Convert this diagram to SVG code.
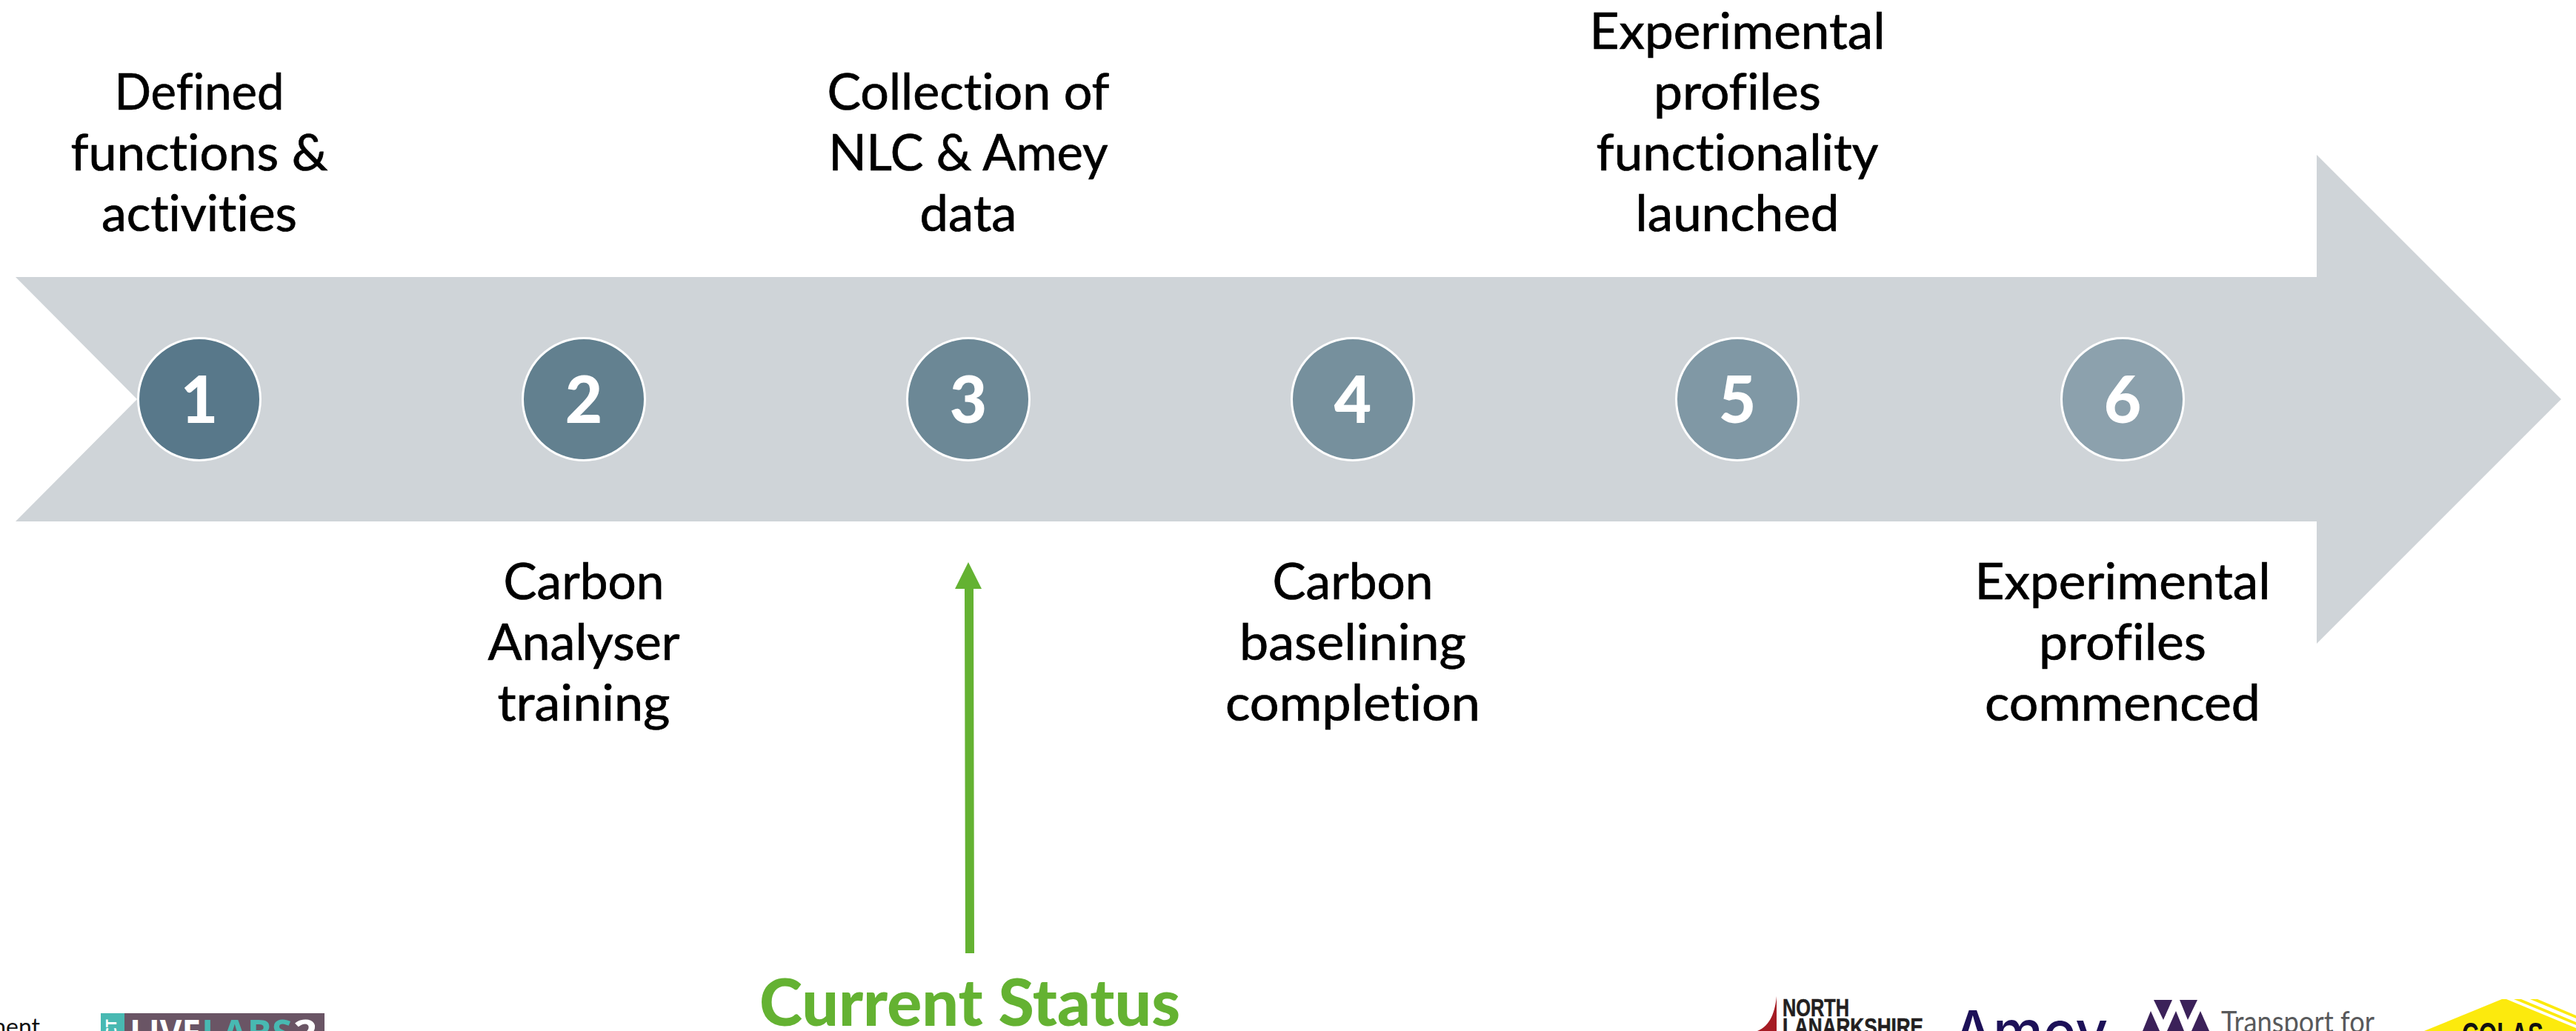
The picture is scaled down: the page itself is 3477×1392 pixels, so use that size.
<svg xmlns="http://www.w3.org/2000/svg" width="3477" height="1392" viewBox="0 0 3477 1392">
<style>
text{font-variant-ligatures:none}
.l{font-family:"Lato","Liberation Sans",sans-serif;font-size:67px;fill:#000;stroke:#000;stroke-width:.7;text-anchor:middle}
.n{font-family:"Lato","Liberation Sans",sans-serif;font-size:87px;font-weight:900;fill:#fff;text-anchor:middle}
.c{stroke:#fff;stroke-width:3}
</style>
<rect width="3477" height="1392" fill="#fff"/>
<g id="timeline-arrow"><polygon points="21,374 3127,374 3127,209 3457,539 3127,869 3127,704 21,704 185,539" fill="#cfd4d8"/></g>
<g id="step-1"><circle class="c" cx="269" cy="539" r="82.5" fill="#58788a"/><text class="n" x="269" y="571">1</text>
<text class="l" x="269" y="148" lengthAdjust="spacingAndGlyphs" textLength="229">Defined</text><text class="l" x="269" y="230" lengthAdjust="spacingAndGlyphs" textLength="347">functions &amp;</text><text class="l" x="269" y="312" lengthAdjust="spacingAndGlyphs" textLength="264">activities</text></g>
<g id="step-2"><circle class="c" cx="788" cy="539" r="82.5" fill="#62808f"/><text class="n" x="788" y="571">2</text>
<text class="l" x="788" y="809" lengthAdjust="spacingAndGlyphs" textLength="217">Carbon</text><text class="l" x="788" y="891" lengthAdjust="spacingAndGlyphs" textLength="259">Analyser</text><text class="l" x="788" y="973" lengthAdjust="spacingAndGlyphs" textLength="233">training</text></g>
<g id="step-3"><circle class="c" cx="1307" cy="539" r="82.5" fill="#6c8896"/><text class="n" x="1307" y="571">3</text>
<text class="l" x="1307" y="148" lengthAdjust="spacingAndGlyphs" textLength="381">Collection of</text><text class="l" x="1307" y="230" lengthAdjust="spacingAndGlyphs" textLength="377">NLC &amp; Amey</text><text class="l" x="1307" y="312" lengthAdjust="spacingAndGlyphs" textLength="131">data</text></g>
<g id="step-4"><circle class="c" cx="1826" cy="539" r="82.5" fill="#76909d"/><text class="n" x="1826" y="571">4</text>
<text class="l" x="1826" y="809" lengthAdjust="spacingAndGlyphs" textLength="217">Carbon</text><text class="l" x="1826" y="891" lengthAdjust="spacingAndGlyphs" textLength="306">baselining</text><text class="l" x="1826" y="973" lengthAdjust="spacingAndGlyphs" textLength="344">completion</text></g>
<g id="step-5"><circle class="c" cx="2345" cy="539" r="82.5" fill="#8098a5"/><text class="n" x="2345" y="571">5</text>
<text class="l" x="2345" y="66" lengthAdjust="spacingAndGlyphs" textLength="399">Experimental</text><text class="l" x="2345" y="148" lengthAdjust="spacingAndGlyphs" textLength="226">profiles</text><text class="l" x="2345" y="230" lengthAdjust="spacingAndGlyphs" textLength="381">functionality</text><text class="l" x="2345" y="312" lengthAdjust="spacingAndGlyphs" textLength="275">launched</text></g>
<g id="step-6"><circle class="c" cx="2865" cy="539" r="82.5" fill="#8ca1ad"/><text class="n" x="2865" y="571">6</text>
<text class="l" x="2865" y="809" lengthAdjust="spacingAndGlyphs" textLength="399">Experimental</text><text class="l" x="2865" y="891" lengthAdjust="spacingAndGlyphs" textLength="226">profiles</text><text class="l" x="2865" y="973" lengthAdjust="spacingAndGlyphs" textLength="372">commenced</text></g>
<g id="connectors"><polygon points="1307,759 1325,795 1314,795 1315,1287 1303,1287 1302,795 1289,795" fill="#64b232"/></g>
<g id="current-status"><text x="1309" y="1385" font-family="Lato,'Liberation Sans',sans-serif" font-size="88" font-weight="900" fill="#64b232" text-anchor="middle" lengthAdjust="spacingAndGlyphs" textLength="568">Current Status</text></g>
<g id="logo-dept"><text x="54" y="1398" font-family="Lato,'Liberation Sans',sans-serif" font-size="32" text-anchor="end" fill="#111">ment</text></g>
<g id="logo-livelabs"><rect x="136" y="1368" width="32" height="24" fill="#48b9b2"/><rect x="168" y="1368" width="270" height="24" fill="#6a5565"/>
<text transform="translate(157,1376) rotate(-90)" font-family="'Open Sans',sans-serif" font-size="19" font-weight="700" fill="#fff" text-anchor="end">CT</text>
<text x="175" y="1412" font-family="'Open Sans',sans-serif" font-size="48" font-weight="700" fill="#fff" lengthAdjust="spacingAndGlyphs" textLength="96">LIVE</text>
<text x="272" y="1412" font-family="'Open Sans',sans-serif" font-size="48" font-weight="700" fill="#48b9b2" lengthAdjust="spacingAndGlyphs" textLength="122">LABS</text>
<text x="396" y="1412" font-family="'Open Sans',sans-serif" font-size="48" font-weight="700" fill="#fff" lengthAdjust="spacingAndGlyphs" textLength="32">2</text></g>
<g id="logo-nlc"><path d="M2398,1345 C2396,1365 2390,1385 2372,1392 L2398,1392 Z" fill="#a51c24"/>
<text x="2406" y="1372" font-family="'Liberation Sans',sans-serif" font-size="33" font-weight="700" fill="#231f20" stroke="#231f20" stroke-width=".6" lengthAdjust="spacingAndGlyphs" textLength="90">NORTH</text>
<text x="2406" y="1398" font-family="'Liberation Sans',sans-serif" font-size="33" font-weight="700" fill="#231f20" stroke="#231f20" stroke-width=".6" lengthAdjust="spacingAndGlyphs" textLength="190">LANARKSHIRE</text></g>
<g id="logo-amey"><text x="2636" y="1421" font-family="Inter,sans-serif" font-size="78" font-weight="500" fill="#1d1158" lengthAdjust="spacingAndGlyphs" textLength="209">Amey</text></g>
<g id="logo-tfw"><g fill="#3b2159"><polygon points="2907,1350 2932,1350 2920,1377"/><polygon points="2942,1350 2966,1350 2953,1377"/><polygon points="2903,1365 2915,1392 2892,1392"/><polygon points="2937,1365 2948,1392 2925,1392"/><polygon points="2970,1365 2982,1392 2958,1392"/></g>
<text x="2998" y="1394" font-family="Lato,sans-serif" font-size="40" fill="#58595b" lengthAdjust="spacingAndGlyphs" textLength="207">Transport for</text></g>
<g id="logo-colas"><g fill="#fcea0d"><polygon points="3272,1392 3377,1349 3383,1349 3477,1388 3477,1392"/><polygon points="3393,1349 3403,1349 3477,1380 3477,1384"/><polygon points="3415,1349 3425,1349 3477,1371 3477,1375"/></g>
<text x="3378" y="1413" font-family="'Liberation Sans',sans-serif" font-size="46" font-weight="700" fill="#111" text-anchor="middle" lengthAdjust="spacingAndGlyphs" textLength="110">COLAS</text></g>
</svg>
